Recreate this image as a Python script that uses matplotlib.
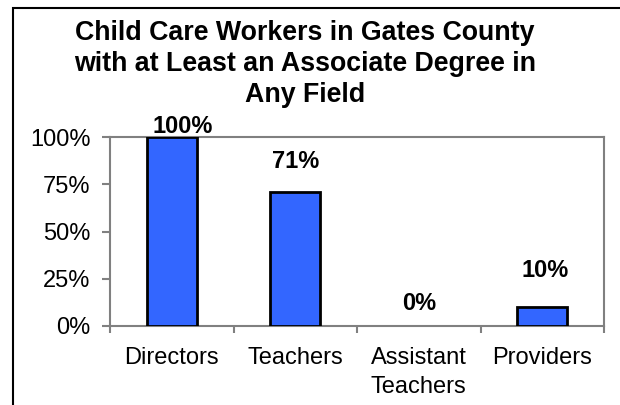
import matplotlib
matplotlib.use("Agg")
import matplotlib.pyplot as plt
from matplotlib.patches import Rectangle

plt.rcParams['font.family'] = ['Liberation Sans', 'DejaVu Sans']

categories = ['Directors', 'Teachers', 'Assistant\nTeachers', 'Providers']
values = [1.00, 0.71, 0.00, 0.10]
labels = ['100%', '71%', '0%', '10%']
yticks = [0, 0.25, 0.5, 0.75, 1.0]
ytick_labels = ['0%', '25%', '50%', '75%', '100%']
title = 'Child Care Workers in Gates County\nwith at Least an Associate Degree in\nAny Field'

fig = plt.figure(figsize=(6.2, 4.05), dpi=100)
ax = fig.add_axes([110/620, 1-326/405, 494/620, 189/405])

x = range(len(categories))
bars = ax.bar(x, values, width=0.405, color='#3366FF', edgecolor='black', linewidth=2, zorder=3)
for b, v in zip(bars, values):
    if v == 0:
        b.set_visible(False)

ax.set_xlim(-0.5, 3.5)
ax.set_ylim(0, 1)
ax.set_yticks(yticks)
ax.set_yticklabels(ytick_labels, fontsize=17)
ax.tick_params(axis='y', direction='out', length=6, width=1.5, color='#808080', pad=8)

# boundary ticks as major, labels on minor ticks at bar centres
ax.set_xticks([i - 0.5 for i in range(len(categories) + 1)])
ax.set_xticklabels([])
ax.tick_params(axis='x', which='major', direction='out', length=5, width=1.5, color='#808080')
ax.set_xticks(list(x), minor=True)
ax.set_xticklabels(categories, minor=True, fontsize=17, linespacing=1.4)
ax.tick_params(axis='x', which='minor', length=0, pad=15)

for s in ax.spines.values():
    s.set_color('#808080')
    s.set_linewidth(1.5)

# data labels (offsets in points, as placed in the original)
offs = [(8, 3), (0, 17), (0, 11.5), (2, 21.5)]
for i, (v, lab) in enumerate(zip(values, labels)):
    ax.annotate(lab, (i, v), xytext=offs[i], textcoords='offset points',
                ha='center', va='baseline', fontsize=17, fontweight='bold',
                annotation_clip=False)

fig.text(305/620, 1-20/405, title, ha='center', va='top', fontsize=19.3,
         fontweight='bold', linespacing=1.25)

# outer chart border (partly cropped)
fig.patches.append(Rectangle((13/620, -0.1), 1.2, 1-8/405+0.1, transform=fig.transFigure,
                             fill=False, edgecolor='black', linewidth=1.5))

fig.savefig('out.png', dpi=100)
